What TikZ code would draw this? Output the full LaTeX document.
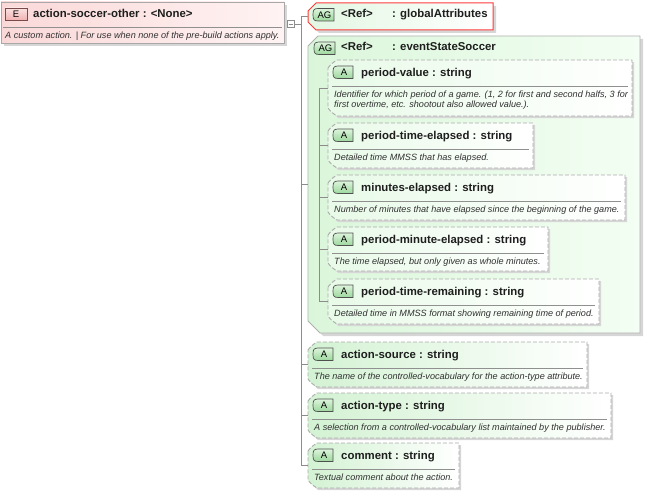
\documentclass[tikz,border=0pt]{standalone}
\usepackage{fontspec}
\setmainfont{Liberation Sans}
\definecolor{linec}{HTML}{8C8C8C}
\definecolor{dashc}{HTML}{ABABAB}
\definecolor{sepc}{HTML}{909090}
\definecolor{shadowc}{HTML}{D6D6D6}
\definecolor{titlec}{HTML}{1E1E1E}
\definecolor{descc}{HTML}{303030}
\definecolor{badgec}{HTML}{4F4F4F}
\definecolor{badgetop}{HTML}{DCF4DC}
\definecolor{badgebot}{HTML}{9CD79C}
\definecolor{essL}{HTML}{DAF6DA}
\definecolor{essR}{HTML}{F4FEF4}
\definecolor{essB}{HTML}{B0B0B0}
\definecolor{innerl}{HTML}{E8FAE8}
\definecolor{outerl}{HTML}{D3F2D3}
\definecolor{gaL}{HTML}{E2F7E2}
\definecolor{gaRed}{HTML}{FF3B3B}
\definecolor{elemL}{HTML}{FAD8D8}
\definecolor{elemR}{HTML}{FFF3F3}
\definecolor{elemB}{HTML}{A8A8A8}
\definecolor{ebtop}{HTML}{FBE2E2}
\definecolor{ebbot}{HTML}{F0B2B2}
\definecolor{ebdraw}{HTML}{7A4A4A}
\tikzset{
  conn/.style={draw=linec, line width=0.8pt},
  dashbox/.style={draw=dashc, line width=0.9pt, dash pattern=on 4pt off 2pt},
  sepline/.style={draw=sepc, line width=0.7pt},
  holder/.style={inner sep=0pt, outer sep=0pt, draw=none},
  atitle/.style={inner sep=0pt, font=\fontsize{11.4}{13}\selectfont\bfseries, text=titlec},
  adesc/.style={inner sep=0pt, font=\fontsize{9.1}{10.7}\selectfont\itshape, text=descc, align=left},
  badgetext/.style={inner sep=0pt, font=\fontsize{9.5}{10}\selectfont, text=black},
  abadgefill/.style={draw=badgec, line width=0.7pt, top color=badgetop, bottom color=badgebot},
  ebadge/.style={draw=ebdraw, line width=0.7pt, top color=ebtop, bottom color=ebbot, inner sep=0pt, font=\fontsize{9.5}{10}\selectfont},
  innerfill/.style={left color=innerl, right color=white},
  outerfill/.style={left color=outerl, right color=white},
}
% badge: name, x, y, w, h, text
\newcommand\abadge[6]{%
  \path[abadgefill] (#2+#4,#3) -- (#2+#4,#3+#5) -- (#2+5.5,#3+#5) .. controls (#2+1,#3+#5) and (#2,#3+#5-1) .. (#2,#3+#5/2) .. controls (#2,#3+1) and (#2+1,#3) .. (#2+5.5,#3) -- cycle;
  \node[badgetext] (#1) at (#2+#4/2+1,#3+#5/2) {#6};
}
% attribute box: name, left, top, right, bottom, fill, title, desc
\newcommand\attrbox[8]{%
  \fill[shadowc] (#2+2,#3+10) -- (#2+10,#3+2) -- (#4+2,#3+2) -- (#4+2,#5+2) -- (#2+10,#5+2) -- (#2+2,#5-6) -- cycle;
  \path[#6, dashbox] (#2,#3+8) .. controls (#2+3,#3+4) .. (#2+9,#3) -- (#4,#3) -- (#4,#5) -- (#2+9,#5) .. controls (#2+3,#5-4) .. (#2,#5-8) -- cycle;
  \node[holder, minimum width=#4-#2, minimum height=#5-#3, anchor=north west] (#1) at (#2,#3) {};
  \abadge{#1-b}{#2+5}{#3+6}{20}{12.5}{A}
  \node[atitle, anchor=base west] (#1-t) at (#2+33,#3+16) {#7};
  \draw[sepline] (#2+4,#3+26.5) -- (#4-4,#3+26.5);
  \node[adesc, anchor=north west] (#1-d) at (#2+6,#3+30.5) {#8};
}
\begin{document}
\begin{tikzpicture}[x=1pt,y=-1pt]
\useasboundingbox (0,0) rectangle (647,495);
% element
\fill[shadowc] (4,5) rectangle (287,46);
\path[left color=elemL, right color=elemR, draw=elemB, line width=0.8pt] (1,2) rectangle (284,43);
\node[holder, minimum width=283, minimum height=41, anchor=north west] (el) at (1,2) {};
\node[ebadge, minimum width=22, minimum height=12] (el-b) at (16,14) {E};
\node[atitle, anchor=base west] (el-t) at (33,17.5) {action-soccer-other : <None>};
\draw[sepline] (3,27) -- (282,27);
\node[adesc, anchor=base west] (el-d) at (5,38.5) {A custom action. | For use when none of the pre-build actions apply.};
% minus box
\node[holder, draw=linec, fill=white, line width=0.7pt, minimum size=7] (minus) at (290.5,24) {};
\draw[linec, line width=0.7pt] (288.5,24) -- (292.5,24);
% globalAttributes
\fill[shadowc] (311,14) -- (319,6) -- (496,6) -- (496,33) -- (319,33) -- (311,25) -- cycle;
\path[left color=gaL, right color=white, draw=gaRed, line width=1pt] (308,11) -- (316,3) -- (493,3) -- (493,30) -- (316,30) -- (308,22) -- cycle;
\node[holder, minimum width=185, minimum height=27, anchor=north west] (ga) at (308,3) {};
\abadge{ga-b}{313}{8.5}{21}{12.5}{AG}
\node[atitle, anchor=base west] (ga-t) at (341,17.5) {\makebox[51pt][l]{<Ref>}: globalAttributes};
% eventStateSoccer
\fill[shadowc] (311,49) -- (321,39) -- (643,39) -- (643,336) -- (323,336) -- (311,324) -- cycle;
\path[left color=essL, right color=essR, draw=essB, line width=0.8pt] (308,46) -- (318,36) -- (640,36) -- (640,333) -- (320,333) -- (308,321) -- cycle;
\node[holder, minimum width=332, minimum height=297, anchor=north west] (ess) at (308,36) {};
\abadge{ess-b}{314}{42}{21}{12.5}{AG}
\node[atitle, anchor=base west] (ess-t) at (341,51) {\makebox[51pt][l]{<Ref>}: eventStateSoccer};
% inner attributes
\attrbox{pv}{328}{60}{632}{116}{innerfill}{period-value : string}{Identifier for which period of a game. (1, 2 for first and second halfs, 3 for\\first overtime, etc. shootout also allowed value.).}
\attrbox{pte}{328}{123}{533}{168}{innerfill}{period-time-elapsed : string}{Detailed time MMSS that has elapsed.}
\attrbox{me}{328}{175}{625}{220}{innerfill}{minutes-elapsed : string}{Number of minutes that have elapsed since the beginning of the game.}
\attrbox{pme}{328}{227}{548}{271}{innerfill}{period-minute-elapsed : string}{The time elapsed, but only given as whole minutes.}
\attrbox{ptr}{328}{279}{599}{324}{innerfill}{period-time-remaining : string}{Detailed time in MMSS format showing remaining time of period.}
% outer attributes
\attrbox{as}{308}{342}{587}{387}{outerfill}{action-source : string}{The name of the controlled-vocabulary for the action-type attribute.}
\attrbox{at}{308}{393}{611}{438}{outerfill}{action-type : string}{A selection from a controlled-vocabulary list maintained by the publisher.}
\attrbox{cm}{308}{443}{459}{488}{outerfill}{comment : string}{Textual comment about the action.}
% connectors
\coordinate (tr) at (301,0);
\coordinate (itr) at (319.5,0);
\draw[conn] (minus.east) -- (minus.east -| tr);
\draw[conn] (tr |- ga.west) -- (tr |- cm.west);
\foreach \n in {ga,ess,as,at,cm} \draw[conn] (tr |- \n.west) -- (\n.west);
\draw[conn] (itr |- pv.west) -- (itr |- ptr.west);
\foreach \n in {pv,pte,me,pme,ptr} \draw[conn] (itr |- \n.west) -- (\n.west);
\end{tikzpicture}
\end{document}
